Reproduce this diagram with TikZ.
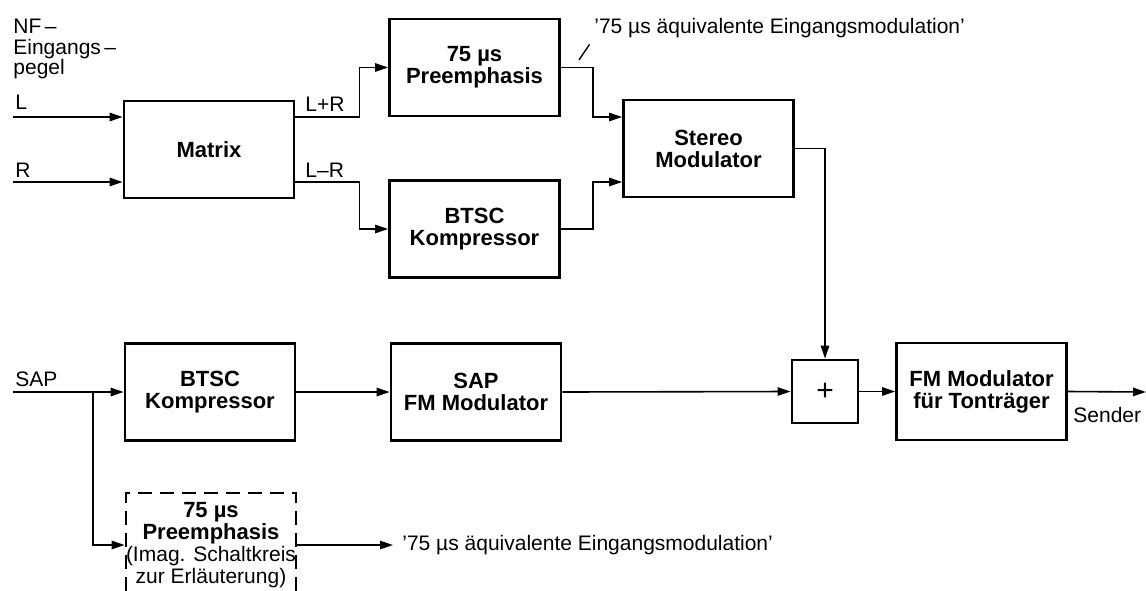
\documentclass[tikz,border=0pt]{standalone}
\usepackage{fontspec}
\setmainfont{Liberation Sans}
\usetikzlibrary{arrows.meta,positioning}
\tikzset{
  block/.style  = {draw, line width=1.4pt, rectangle, minimum width=85pt,
                   minimum height=48.5pt, inner sep=0pt, align=center,
                   font=\bfseries\fontsize{11}{11}\selectfont},
  sumbox/.style = {draw, line width=1.4pt, rectangle, minimum width=33pt,
                   minimum height=31.5pt, inner sep=0pt,
                   font=\fontsize{15}{15}\selectfont},
  dashbox/.style= {block, dash pattern=on 7pt off 4pt, minimum height=52pt},
  sig/.style    = {-{Triangle[length=6.5pt,width=4.2pt]}, line width=0.8pt},
  wire/.style   = {line width=0.7pt},
  lbl/.style    = {inner sep=0pt, font=\fontsize{10.5}{10.5}\selectfont},
}

\begin{document}
\begin{tikzpicture}[x=0.5pt,y=-0.5pt]
\useasboundingbox (0,0) rectangle (1146,590);
% stereo path
\node[block] (mtx)    at (209,149.5) {Matrix};
\node[block] (pre)    at (474.5,67.5) {75 µs\\Preemphasis};
\node[block] (btscA)  at (474.5,229) {BTSC\\Kompressor};
\node[block] (stereo) at (708.5,148.5) {Stereo\\Modulator};
% SAP path
\node[block] (btscB)  at (210,392) {BTSC\\Kompressor};
\node[block] (sapfm)  at (476,392) {SAP\\FM Modulator};
\node[sumbox] (sum)   at (825,391.5) {+};
\node[block] (fmmod)  at (981.5,391.5) {FM Modulator\\für Tonträger};
% imaginary circuit, for explanation only
\node[dashbox] (preB) at (211,545) {75 µs\\Preemphasis\\
  {\mdseries\fontsize{10.5}{10}\selectfont (Imag. Schaltkreis}\\
  {\mdseries\fontsize{10.5}{10}\selectfont zur Erläuterung)}};
% inputs and texts
\coordinate (inL)   at (13,117);
\coordinate (inR)   at (13,182);
\coordinate (inSAP) at (13,392);
\coordinate (br)    at (93,392);
\coordinate (out)   at (1146,392);
\coordinate (lead)  at (579,60);
\node[lbl,anchor=north west,align=left,font=\fontsize{10.5}{10.2}\selectfont] (nf) at (13,19) {NF\,–\\Eingangs\,–\\pegel};
\node[lbl,anchor=base west] (tL)   at (15,109) {L};
\node[lbl,anchor=base west] (tR)   at (15,177) {R};
\node[lbl,anchor=base west] (tSAP) at (15,386) {SAP};
\node[lbl,anchor=base west] (tsum) at (305,111) {L+R};
\node[lbl,anchor=base west] (tdif) at (305,177) {L–R};
\node[lbl,anchor=base west] (tout) at (1073,422) {Sender};
\node[lbl,anchor=base west] (lblTop) at (594,33) {'75 µs äquivalente Eingangsmodulation'};
\node[lbl,anchor=west] (lblBot) at (402,545) {'75 µs äquivalente Eingangsmodulation'};
% connections
\draw[sig] (inL) -- (inL -| mtx.west);
\draw[sig] (inR) -- (inR -| mtx.west);
\draw[sig] (inL -| mtx.east) -- ++(64,0) |- (pre.west);
\draw[sig] (inR -| mtx.east) -- ++(64,0) |- (btscA.west);
\draw[sig] (pre.east) -- ++(32,0) |- (stereo.west |- inL);
\draw[sig] (btscA.east) -- ++(32,0) |- (stereo.west |- inR);
\draw[sig] (stereo.east) -| (sum.north);
\draw[sig] (inSAP) -- (btscB.west);
\draw[sig] (btscB.east) -- (sapfm.west);
\draw[sig] (sapfm.east) -- (sum.west);
\draw[sig] (sum.east) -- (fmmod.west);
\draw[sig] (fmmod.east) -- (out);
\draw[sig] (br) |- (preB.west);
\draw[sig,shorten >=4.5pt] (preB.east) -- (lblBot.west);
\draw[wire,shorten >=4pt] (lead) -- (lblTop.south west);
\end{tikzpicture}
\end{document}
